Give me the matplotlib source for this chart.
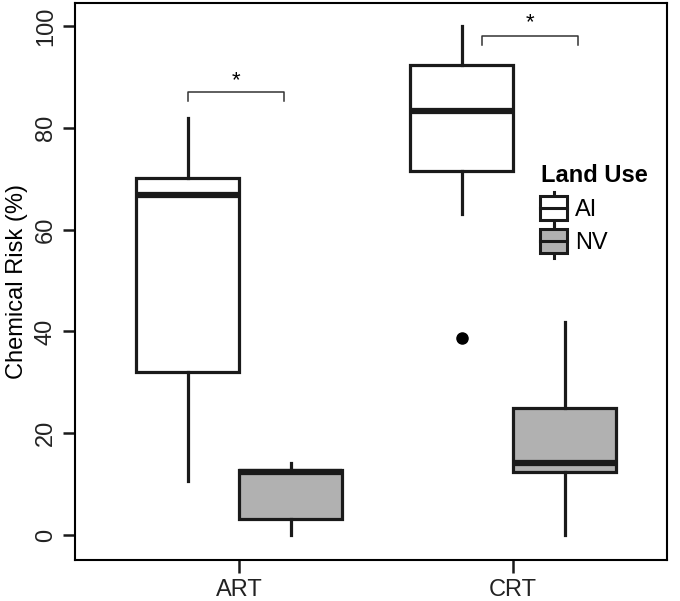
import matplotlib
matplotlib.use("Agg")
import matplotlib.pyplot as plt
from matplotlib.patches import Rectangle, Patch
from matplotlib.lines import Line2D
from matplotlib.legend_handler import HandlerBase

plt.rcParams['font.family'] = ['Liberation Sans', 'DejaVu Sans']

# data
groups = ['ART', 'CRT']
land_use = ['AI', 'NV']
whislo = {'AI': [10.7, 63.0], 'NV': [0.0, 0.0]}
q1 = {'AI': [32.0, 71.6], 'NV': [3.2, 12.4]}
med = {'AI': [66.8, 83.2], 'NV': [12.4, 14.2]}
q3 = {'AI': [70.2, 92.3], 'NV': [12.8, 25.0]}
whishi = {'AI': [81.9, 100.0], 'NV': [14.2, 41.8]}
fliers = {'AI': [[], [38.7]], 'NV': [[], []]}
fills = {'AI': 'white', 'NV': '#b1b1b1'}

dark = '#1a1a1a'
fig = plt.figure(figsize=(6.8, 6.01), dpi=100)
ax = fig.add_axes([75/680, 1 - 560/601, 592/680, 557/601])

offset = {'AI': -0.188, 'NV': 0.188}
width = 0.376
for lu in land_use:
    stats = []
    for i, g in enumerate(groups):
        stats.append(dict(whislo=whislo[lu][i], q1=q1[lu][i], med=med[lu][i],
                          q3=q3[lu][i], whishi=whishi[lu][i], fliers=fliers[lu][i]))
    pos = [i + 1 + offset[lu] for i in range(len(groups))]
    ax.bxp(stats, positions=pos, widths=width, patch_artist=True, showcaps=False,
           boxprops=dict(facecolor=fills[lu], edgecolor=dark, linewidth=2.3),
           whiskerprops=dict(color=dark, linewidth=2.3),
           medianprops=dict(color=dark, linewidth=4.5, solid_capstyle='butt'),
           flierprops=dict(marker='o', markerfacecolor='black', markeredgecolor='black',
                           markersize=8))

# significance brackets
def bracket(x0, x1, y, drop, ystar):
    ax.plot([x0, x0, x1, x1], [y - drop, y, y, y - drop], color='#333333', lw=1.1)
    ax.text((x0 + x1) / 2, ystar, '*', ha='center', va='center', fontsize=16)

bracket(0.813, 1.165, 87.1, 1.8, 89.3)
bracket(1.886, 2.238, 98.1, 1.8, 100.6)

ax.set_xlim(0.401, 2.562)
ax.set_ylim(-4.9, 104.5)
ax.set_xticks([1, 2])
ax.set_xticklabels(groups)
ax.set_yticks([0, 20, 40, 60, 80, 100])
for s in ax.spines.values():
    s.set_linewidth(1.5)
ax.tick_params(axis='both', length=9, width=1.8, color=dark, labelsize=17, labelcolor='#222222')
ax.tick_params(axis='x', pad=5)
ax.tick_params(axis='y', pad=4)
plt.setp(ax.get_yticklabels(), rotation=90, va='center')
ax.set_ylabel('Chemical Risk (%)', fontsize=17, labelpad=5)


class BoxHandler(HandlerBase):
    def create_artists(self, legend, orig_handle, xdescent, ydescent, width, height,
                       fontsize, trans):
        x0, y0 = -xdescent, -ydescent
        bh = height * 0.8
        by = y0 + (height - bh) / 2
        xm = x0 + width / 2
        rect = Rectangle((x0, by), width, bh, facecolor=orig_handle.get_facecolor(),
                         edgecolor=dark, lw=2.2, transform=trans)
        mid = Line2D([x0, x0 + width], [y0 + height / 2] * 2, color=dark, lw=2.2, transform=trans)
        wt = Line2D([xm, xm], [by + bh, y0 + height + 1], color=dark, lw=2.2, transform=trans)
        wb = Line2D([xm, xm], [by, y0 - 1], color=dark, lw=2.2, transform=trans)
        return [wt, wb, rect, mid]


fig.text(541/680, 1 - 175/601, 'Land Use', fontsize=17, fontweight='bold',
         ha='left', va='center', color='black')
handles = [Patch(facecolor=fills[lu]) for lu in land_use]
leg = ax.legend(handles, land_use, loc='upper left',
                bbox_to_anchor=(540/680, 1 - 193/601), bbox_transform=fig.transFigure,
                frameon=False, fontsize=17,
                handler_map={Patch: BoxHandler()}, handlelength=1.15, handleheight=1.6,
                handletextpad=0.35, labelspacing=0.12, borderpad=0, borderaxespad=0)

fig.savefig('out.png', dpi=100)
